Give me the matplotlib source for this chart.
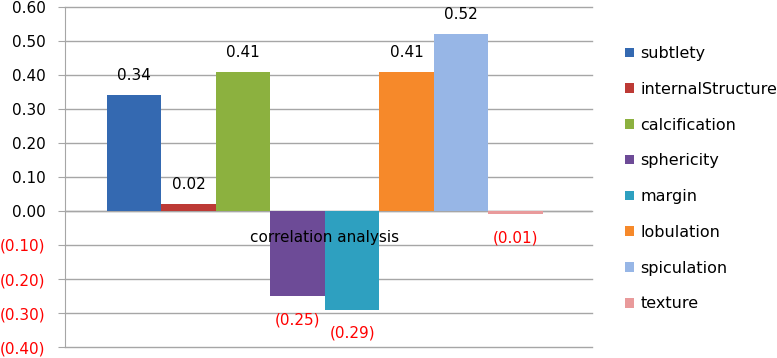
import matplotlib
matplotlib.use("Agg")
import matplotlib.pyplot as plt
from matplotlib.patches import Patch

plt.rcParams['font.family'] = ['DejaVu Sans']

category = "correlation analysis"
series = ["subtlety", "internalStructure", "calcification", "sphericity",
          "margin", "lobulation", "spiculation", "texture"]
values = [0.34, 0.02, 0.41, -0.25, -0.29, 0.41, 0.52, -0.01]
colors = ["#3469B1", "#BD3A35", "#8CB13F", "#6D4B97",
          "#2EA0C0", "#F6892A", "#97B6E6", "#E99A9B"]
yticks = [-0.4, -0.3, -0.2, -0.1, 0.0, 0.1, 0.2, 0.3, 0.4, 0.5, 0.6]

grid_col = "#A6A6A6"
red = "#FF0000"
fs = 11


def fmt(v):
    # excel style accounting format: negatives in parentheses
    if v < 0:
        return "(%.2f)" % abs(v)
    return "%.2f" % v


fig = plt.figure(figsize=(7.77, 3.58), dpi=100)
ax = fig.add_axes([65 / 777, 1 - 347 / 358, (592 - 65) / 777, (347 - 7) / 358])

pos = list(range(len(series)))
bars = ax.bar(pos, values, width=1.0, color=colors, zorder=2)

for b, v in zip(bars, values):
    x = b.get_x() + b.get_width() / 2
    if v >= 0:
        ax.annotate(fmt(v), (x, v), xytext=(0, 14), textcoords="offset points",
                    ha="center", va="center", fontsize=fs, color="black", zorder=5)
    else:
        ax.annotate(fmt(v), (x, v), xytext=(0, -17), textcoords="offset points",
                    ha="center", va="center", fontsize=fs, color=red, zorder=5)

ax.set_xlim(-1.27, 8.4)
ax.set_ylim(-0.4, 0.6)
ax.set_yticks(yticks)
ax.set_yticklabels([fmt(t) for t in yticks], fontsize=fs)
for lab, t in zip(ax.get_yticklabels(), yticks):
    if t < 0:
        lab.set_color(red)
ax.tick_params(axis="y", length=5, color=grid_col, pad=9)
ax.set_xticks([])
ax.yaxis.grid(True, color=grid_col, linewidth=1)
for gl in ax.get_ygridlines():
    gl.set_clip_on(False)
ax.set_axisbelow(True)

for s in ["top", "right", "bottom"]:
    ax.spines[s].set_visible(False)
ax.spines["left"].set_color(grid_col)
ax.axhline(0, color=grid_col, linewidth=1, zorder=1)

# category label sits just under the zero line, over the bars
ax.annotate(category, (sum(pos) / len(pos), 0), xytext=(0, -19),
            textcoords="offset points", ha="center", va="center",
            fontsize=fs, color="black", zorder=6)

handles = [Patch(facecolor=c, label=s) for c, s in zip(colors, series)]
fig.legend(handles=handles, loc="upper left", bbox_to_anchor=(625 / 777, 1 - 46 / 358),
           frameon=False, fontsize=11.5, handlelength=0.55, handleheight=0.55,
           handletextpad=0.4, labelspacing=1.3, borderaxespad=0, borderpad=0)

fig.savefig("out.png", dpi=100)
